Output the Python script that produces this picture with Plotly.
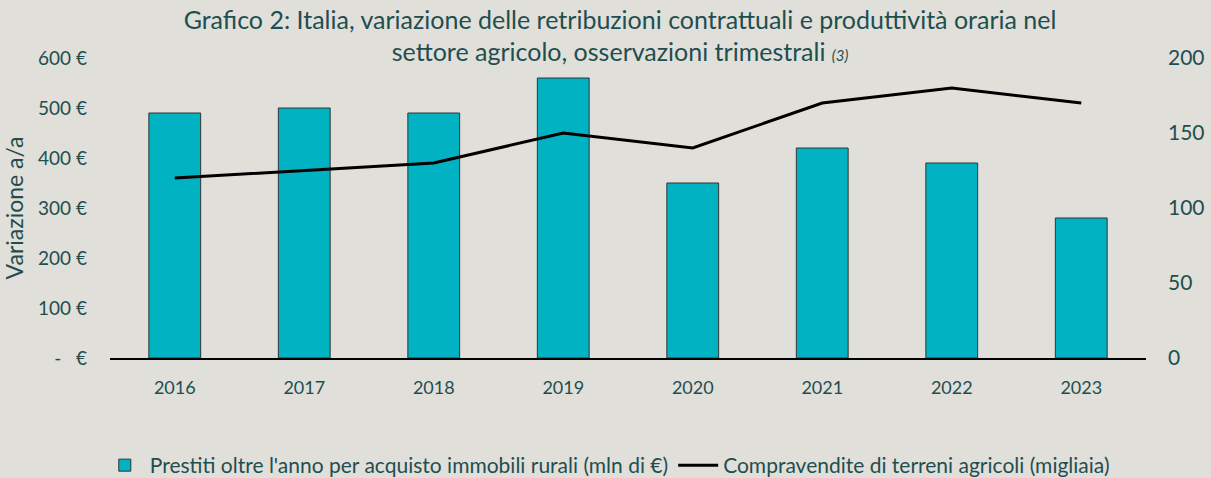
import plotly.graph_objects as go

anni = ["2016", "2017", "2018", "2019", "2020", "2021", "2022", "2023"]
prestiti = [490, 500, 490, 560, 350, 420, 390, 280]
compravendite = [120, 125, 130, 150, 140, 170, 180, 170]

left_ticks = [0, 100, 200, 300, 400, 500, 600]
left_text = ["-   €", "100 €", "200 €", "300 €", "400 €", "500 €", "600 €"]
right_ticks = [0, 50, 100, 150, 200]

text_col = "#1F4E4F"
bg = "#E0DFDA"
font = "Lato"

fig = go.Figure()
fig.add_trace(go.Bar(
    x=anni, y=prestiti, name="Prestiti oltre l'anno per acquisto immobili rurali (mln di €)",
    marker=dict(color="#00B2C2", line=dict(color="#333333", width=1)),
    width=0.4, yaxis="y",
))
fig.add_trace(go.Scatter(
    x=anni, y=compravendite, name="Compravendite di terreni agricoli (migliaia)",
    mode="lines", line=dict(color="black", width=3), yaxis="y2",
))

fig.update_layout(
    width=1211, height=478,
    paper_bgcolor=bg, plot_bgcolor=bg,
    margin=dict(l=110, r=65, t=58, b=120, autoexpand=False),
    font=dict(family=font, color=text_col, size=18),
    title=dict(
        text="Grafico 2: Italia, variazione delle retribuzioni contrattuali e produttività oraria nel<br>"
             "settore agricolo, osservazioni trimestrali <i><span style='font-size:15px'>(3)</span></i>",
        x=0.512, xanchor="center", yref="container", y=0.94, yanchor="top",
        font=dict(size=25, color=text_col, family=font),
    ),
    xaxis=dict(
        showgrid=False, showline=True, linecolor="black", linewidth=2,
        ticks="", tickfont=dict(size=18), ticklabelstandoff=12,
    ),
    yaxis=dict(
        range=[0, 600], tickvals=left_ticks, ticktext=left_text,
        showgrid=False, zeroline=False, showline=False,
        ticklabelstandoff=22, tickfont=dict(size=19),
        title=dict(text="Variazione a/a", font=dict(size=23), standoff=12),
    ),
    yaxis2=dict(
        range=[0, 200], tickvals=right_ticks, overlaying="y", side="right",
        showgrid=False, zeroline=False, showline=False,
        ticklabelstandoff=21, tickfont=dict(size=21),
    ),
    legend=dict(
        orientation="h", x=0.48, xanchor="center", y=-0.29, yanchor="top",
        font=dict(size=21), bgcolor="rgba(0,0,0,0)", itemwidth=40,
        tracegroupgap=0,
    ),
    bargap=0.6, showlegend=True,
)

fig.write_html("out.html", config={"displayModeBar": False},
               post_script="document.body.style.margin='0';")
